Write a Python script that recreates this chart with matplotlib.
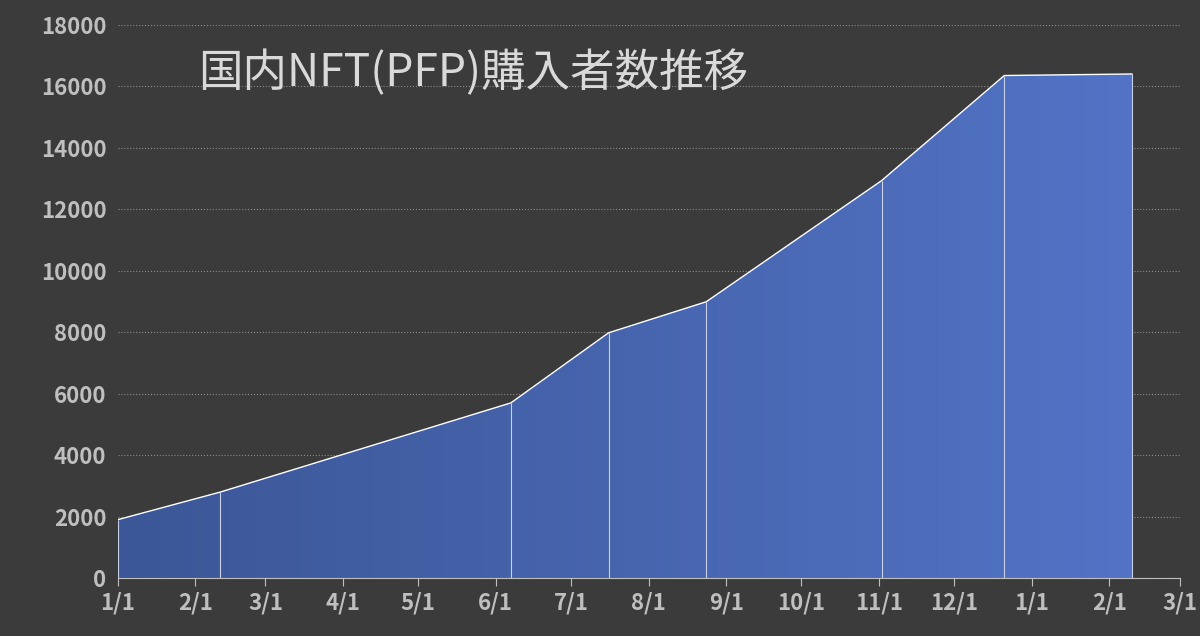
import numpy as np
import matplotlib.pyplot as plt
import matplotlib.dates as mdates
from matplotlib.patches import Polygon
from matplotlib.colors import LinearSegmentedColormap
import datetime as dt

plt.rcParams['font.family'] = ['Noto Sans CJK JP', 'DejaVu Sans']

dates = ["2022-01-01", "2022-02-11", "2022-06-07", "2022-07-16",
         "2022-08-24", "2022-11-02", "2022-12-21", "2023-02-10"]
buyers = [1900, 2800, 5700, 7980, 8990, 12930, 16350, 16400]
title = "国内NFT(PFP)購入者数推移"

x = mdates.date2num([dt.datetime.fromisoformat(d) for d in dates])
bg = "#3b3b3b"

fig = plt.figure(figsize=(12, 6.36), dpi=100, facecolor=bg)
ax = fig.add_axes([0.098, 0.091, 0.885, 0.87], facecolor=bg)

# gradient fill under the line
poly = Polygon(np.column_stack([np.r_[x, x[-1], x[0]], np.r_[buyers, 0, 0]]),
               closed=True, facecolor="none", edgecolor="none")
ax.add_patch(poly)
grad = np.linspace(0, 1, 256).reshape(1, -1)
cmap = LinearSegmentedColormap.from_list("g", ["#3c5797", "#5273c6"])
im = ax.imshow(grad, cmap=cmap, aspect="auto", extent=[x[0], x[-1], 0, 18000],
               origin="lower", zorder=2)
im.set_clip_path(poly)
ax.plot(x, buyers, color="white", lw=1, zorder=3)
ax.vlines(x, 0, buyers, color="#c8d0e8", lw=0.8, zorder=3)

ax.set_xlim(mdates.date2num(dt.datetime(2022, 1, 1)), mdates.date2num(dt.datetime(2023, 3, 1)))
ax.set_ylim(0, 18000)
ax.set_yticks(range(0, 18001, 2000))
ax.yaxis.grid(True, linestyle=":", color="#8a8a8a", lw=0.8)
ax.set_axisbelow(True)
ax.xaxis.set_major_locator(mdates.MonthLocator())
ax.xaxis.set_major_formatter(mdates.DateFormatter("%-m/%-d"))
ax.tick_params(axis="x", colors="#bfbfbf", length=6, direction="out", labelsize=16)
ax.tick_params(axis="y", colors="#bfbfbf", length=0, labelsize=16, pad=8)
for lab in ax.get_xticklabels() + ax.get_yticklabels():
    lab.set_fontweight("bold")
for s in ["top", "right", "left"]:
    ax.spines[s].set_visible(False)
ax.spines["bottom"].set_color("#bfbfbf")

fig.text(0.165, 0.885, title, color="#d9d9d9", fontsize=32, va="center")

fig.savefig("out.png", dpi=100, facecolor=bg)
